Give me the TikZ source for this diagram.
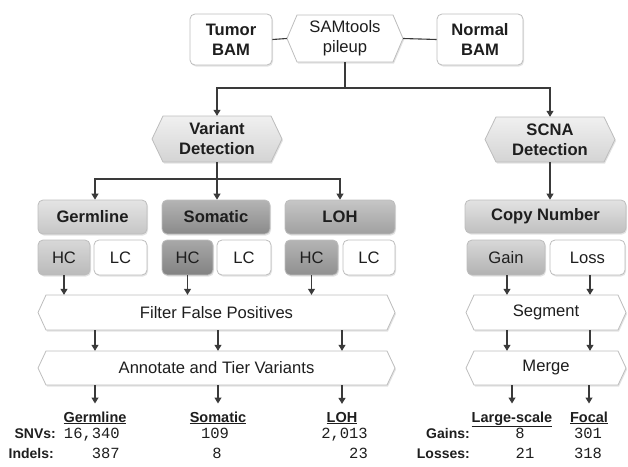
\documentclass[tikz,border=0pt]{standalone}
\usepackage{fontspec}
\setmainfont{Liberation Sans}
\newfontfamily\monof{Liberation Mono}
\usetikzlibrary{arrows.meta,shadows}
\definecolor{germT}{HTML}{E4E4E4}\definecolor{germB}{HTML}{C6C6C6}
\definecolor{somaT}{HTML}{B4B4B4}\definecolor{somaB}{HTML}{8A8A8A}
\definecolor{lohT}{HTML}{C6C6C6}\definecolor{lohB}{HTML}{A0A0A0}
\definecolor{hcgT}{HTML}{D8D8D8}\definecolor{hcgB}{HTML}{BABABA}
\definecolor{hcsT}{HTML}{A8A8A8}\definecolor{hcsB}{HTML}{828282}
\definecolor{hclT}{HTML}{B4B4B4}\definecolor{hclB}{HTML}{909090}
\definecolor{vdT}{HTML}{F0F0F0}\definecolor{vdB}{HTML}{D4D4D4}
\definecolor{cnT}{HTML}{E2E2E2}\definecolor{cnB}{HTML}{C0C0C0}
\definecolor{gainT}{HTML}{D8D8D8}\definecolor{gainB}{HTML}{B2B2B2}
\definecolor{edge}{HTML}{BDBDBD}
\definecolor{ink}{HTML}{1E1E1E}
\definecolor{wire}{HTML}{3A3A3A}
\begin{document}
\begin{tikzpicture}[x=1pt,y=-1pt,
  conn/.style={draw=wire, line width=1.1pt},
  arr/.style={conn, -{Triangle[width=7pt,length=6pt]}},
  shad/.style={drop shadow={opacity=0.22, shadow xshift=1pt, shadow yshift=-1.5pt}},
  box/.style={draw=edge, line width=0.8pt, rounded corners=5pt, inner sep=0pt, align=center,
    font=\fontsize{16.6}{20}\selectfont, text=ink, shad},
  hexa/.style={draw=edge, line width=0.8pt, shad},
  hext/.style={inner sep=0pt, align=center, font=\fontsize{16.6}{20}\selectfont, text=ink},
  hexpath/.style n args={5}{insert path={(#1,{(#2+#4)/2}) -- ({#1+#5},#2) -- ({#3-#5},#2) -- (#3,{(#2+#4)/2}) -- ({#3-#5},#4) -- ({#1+#5},#4) -- cycle}},
  lbl/.style={inner sep=0pt, outer ysep=8pt, anchor=base, font=\fontsize{14.5}{17}\bfseries, text=ink},
  rowlbl/.style={inner sep=0pt, anchor=base east, font=\fontsize{14}{17}\bfseries, text=ink},
  num/.style={inner sep=0pt, font=\fontsize{15.5}{17}\monof, text=ink}
]
\useasboundingbox (0,0) rectangle (628,466);

% top row
\node[box, fill=white, minimum width=82pt, minimum height=51pt] (tumor) at (231,39.5) {\bfseries Tumor\\\bfseries BAM};
\node[box, fill=white, minimum width=86pt, minimum height=51pt] (normal) at (480,39.5) {\bfseries Normal\\\bfseries BAM};
\draw[hexa, fill=white, hexpath={287}{15}{403}{62}{10}];
\node[hext, minimum width=116pt, minimum height=47pt] (sam) at (345,38.5) {SAMtools\\pileup};

% detection hexagons
\draw[hexa, top color=vdT, bottom color=vdB, hexpath={152}{116}{282}{162}{11}];
\node[hext, minimum width=130pt, minimum height=46pt] (vd) at (217,139) {\bfseries Variant\\\bfseries Detection};
\draw[hexa, top color=vdT, bottom color=vdB, hexpath={485}{117}{615}{162}{11}];
\node[hext, minimum width=130pt, minimum height=45pt] (scna) at (550,139.5) {\bfseries SCNA\\\bfseries Detection};

% variant type boxes
\node[box, top color=germT, bottom color=germB, minimum width=109pt, minimum height=34pt] (germ) at (92.5,217) {\bfseries Germline};
\node[box, top color=somaT, bottom color=somaB, minimum width=108pt, minimum height=34pt] (soma) at (216,217) {\bfseries Somatic};
\node[box, top color=lohT, bottom color=lohB, minimum width=110pt, minimum height=34pt] (loh) at (340,217) {\bfseries LOH};

\node[box, top color=hcgT, bottom color=hcgB, minimum width=52pt, minimum height=35pt] (hcg) at (64,257.5) {HC};
\node[box, fill=white, minimum width=53pt, minimum height=35pt] (lcg) at (120.5,257.5) {LC};
\node[box, top color=hcsT, bottom color=hcsB, minimum width=51pt, minimum height=35pt] (hcs) at (187.5,257.5) {HC};
\node[box, fill=white, minimum width=54pt, minimum height=35pt] (lcs) at (244,257.5) {LC};
\node[box, top color=hclT, bottom color=hclB, minimum width=53pt, minimum height=35pt] (hcl) at (311.5,257.5) {HC};
\node[box, fill=white, minimum width=52pt, minimum height=35pt] (lcl) at (369,257.5) {LC};

% copy number
\node[box, top color=cnT, bottom color=cnB, minimum width=161pt, minimum height=33pt] (cn) at (545.5,216.5) {\bfseries Copy Number};
\node[box, top color=gainT, bottom color=gainB, minimum width=78pt, minimum height=35pt] (gain) at (506,257.5) {Gain};
\node[box, fill=white, minimum width=75pt, minimum height=35pt] (loss) at (587.5,257.5) {Loss};

% process hexagons
\draw[hexa, fill=white, hexpath={38}{295}{395}{330}{8}];
\node[hext, minimum width=357pt, minimum height=35pt] (filt) at (216.5,312.5) {Filter False Positives};
\draw[hexa, fill=white, hexpath={38}{351}{395}{385}{8}];
\node[hext, minimum width=357pt, minimum height=34pt] (annot) at (216.5,368) {Annotate and Tier Variants};
\draw[hexa, fill=white, hexpath={466}{295}{626}{330}{8}];
\node[hext, minimum width=160pt, minimum height=35pt] (seg) at (546,312.5) {Segment};
\draw[hexa, fill=white, hexpath={466}{351}{626}{385}{8}];
\node[hext, minimum width=160pt, minimum height=34pt] (merge) at (546,368) {Merge};

% result labels
\node[lbl] (lgerm) at (95,422) {\underline{Germline}};
\node[lbl] (lsoma) at (218,422) {\underline{Somatic}};
\node[lbl] (lloh) at (342,422) {\underline{LOH}};
\node[lbl] (llarge) at (512,422) {\underline{Large-scale}};
\node[lbl] (lfocal) at (589,422) {\underline{Focal}};

\node[rowlbl] (snv) at (56,438) {SNVs:};
\node[rowlbl] (ind) at (54,458) {Indels:};
\node[num, anchor=base east] (g1) at (120,438) {16,340};
\node[num, anchor=base east] (g2) at (120,458) {387};
\node[num, anchor=base] (s1) at (215,438) {109};
\node[num, anchor=base] (s2) at (217,458) {8};
\node[num, anchor=base east] (l1) at (368,438) {2,013};
\node[num, anchor=base east] (l2) at (368,458) {23};

\node[rowlbl] (gains) at (470,438) {Gains:};
\node[rowlbl] (losses) at (470,458) {Losses:};
\node[num, anchor=base] (c1) at (520,438) {8};
\node[num, anchor=base] (c2) at (525,458) {21};
\node[num, anchor=base] (c3) at (588,438) {301};
\node[num, anchor=base] (c4) at (588,458) {318};

% connectors: top
\draw[conn] (tumor.east) -- (sam.west);
\draw[conn] (sam.east) -- (normal.west);
\coordinate (j0) at (345,88);
\draw[conn] (sam.south) -- (j0);
\draw[arr] (j0) -| (vd.north);
\draw[arr] (j0) -| (scna.north);

% variant tree
\coordinate (j1) at (217,179);
\draw[conn] (vd.south) -- (j1);
\draw[arr] (j1) -- (j1 |- soma.north);
\draw[arr] (j1) -| ([xshift=2.5pt]germ.north);
\draw[arr] (j1) -| (loh.north);

\draw[arr] (scna.south) -- (scna.south |- cn.north);

% HC to filter
\draw[arr] (hcg.south) -- (hcg.south |- filt.north);
\draw[arr] (hcs.south) -- (hcs.south |- filt.north);
\draw[arr] (hcl.south) -- (hcl.south |- filt.north);
% filter to annotate
\draw[arr] (filt.south -| lgerm) -- (annot.north -| lgerm);
\draw[arr] (filt.south -| lsoma) -- (annot.north -| lsoma);
\draw[arr] (filt.south -| lloh) -- (annot.north -| lloh);
% annotate to labels
\draw[arr] (annot.south -| lgerm) -- (lgerm.north);
\draw[arr] (annot.south -| lsoma) -- (lsoma.north);
\draw[arr] (annot.south -| lloh) -- (lloh.north);

% right side
\draw[arr] ([xshift=1pt]gain.south) -- ([xshift=1pt]gain.south |- seg.north);
\draw[arr] ([xshift=2.5pt]loss.south) -- ([xshift=2.5pt]loss.south |- seg.north);
\draw[arr] ([xshift=1pt]seg.south -| gain) -- ([xshift=1pt]merge.north -| gain);
\draw[arr] ([xshift=2.5pt]seg.south -| loss) -- ([xshift=2.5pt]merge.north -| loss);
\draw[arr] (merge.south -| llarge) -- (llarge.north);
\draw[arr] (merge.south -| lfocal) -- (lfocal.north);
\end{tikzpicture}
\end{document}
